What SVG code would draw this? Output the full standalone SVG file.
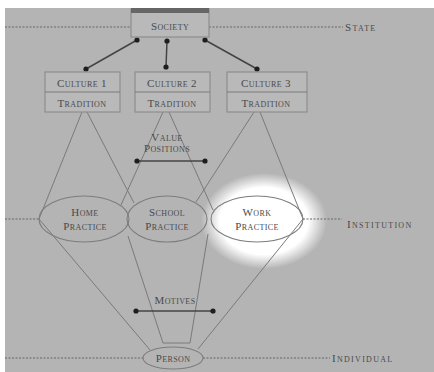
<svg xmlns="http://www.w3.org/2000/svg" width="434" height="372" viewBox="0 0 434 372">
<defs>
<radialGradient id="glow" cx="0.5" cy="0.5" r="0.5">
<stop offset="0" stop-color="#ffffff"/>
<stop offset="0.7" stop-color="#ffffff"/>
<stop offset="1" stop-color="#ffffff" stop-opacity="0"/>
</radialGradient>
<marker id="dot" viewBox="0 0 6 6" refX="3" refY="3" markerWidth="6" markerHeight="6" markerUnits="userSpaceOnUse">
<circle cx="3" cy="3" r="2.6" fill="#1e1e1e"/>
</marker>
<style>
.t{font-family:"Liberation Serif",serif;font-variant:small-caps;font-size:11px;letter-spacing:0.4px;fill:#4a4a4a;text-anchor:middle}
.lab{font-family:"Liberation Serif",serif;font-variant:small-caps;font-size:11px;letter-spacing:1.3px;fill:#4a4a4a}
.dash{stroke:#666;stroke-width:1.2;stroke-dasharray:2 1.5;fill:none}
.ln{stroke:#7a7a7a;stroke-width:1;fill:none}
.box{stroke:#8e8e8e;stroke-width:1.2;fill:#b9b9b9}
.ell{stroke:#7d7d7d;stroke-width:1.1;fill:none}
.arr{stroke:#444;stroke-width:1.5;fill:none;marker-start:url(#dot);marker-end:url(#dot)}
</style>
</defs>
<rect x="0" y="0" width="434" height="372" fill="#ffffff"/>
<rect x="5" y="8" width="429" height="364" fill="#b4b4b4"/>
<ellipse cx="264" cy="221" rx="63" ry="48" fill="url(#glow)"/>

<g id="levels">
<line class="dash" x1="5" y1="27" x2="131" y2="27"/>
<line class="dash" x1="209" y1="27" x2="343" y2="27"/>
<text class="lab" x="345" y="31">State</text>
<line class="dash" x1="5" y1="219" x2="39" y2="219"/>
<line class="dash" x1="303" y1="219" x2="342" y2="219"/>
<text class="lab" x="347" y="228">Institution</text>
<line class="dash" x1="5" y1="358" x2="143" y2="358"/>
<line class="dash" x1="203" y1="358" x2="330" y2="358"/>
<text class="lab" x="332" y="362">Individual</text>
</g>

<g id="connectors">
<line class="arr" x1="137" y1="40" x2="86" y2="69"/>
<line class="arr" x1="167" y1="41" x2="166" y2="67"/>
<line class="arr" x1="205" y1="40" x2="257" y2="69"/>
<line class="ln" x1="82" y1="112" x2="39" y2="219"/>
<line class="ln" x1="87" y1="112" x2="134" y2="203"/>
<line class="ln" x1="163" y1="112" x2="121" y2="205"/>
<line class="ln" x1="169" y1="112" x2="213" y2="210"/>
<line class="ln" x1="254" y1="112" x2="196" y2="202"/>
<line class="ln" x1="260" y1="112" x2="303" y2="219"/>
<line class="ln" x1="39" y1="219" x2="150" y2="350"/>
<line class="ln" x1="128" y1="236" x2="163" y2="343"/>
<line class="ln" x1="208" y1="234" x2="190" y2="343"/>
<line class="ln" x1="303" y1="219" x2="198" y2="349"/>
<line class="ln" x1="163" y1="343" x2="190" y2="343"/>
<line class="arr" x1="137" y1="161" x2="205" y2="161"/>
<line class="arr" x1="136" y1="311" x2="213" y2="311"/>
</g>

<g id="society">
<rect class="box" x="131" y="9" width="78" height="28"/>
<rect x="131" y="8" width="78" height="5" fill="#666"/>
<text class="t" x="170" y="30">Society</text>
</g>
<g id="culture1">
<rect class="box" x="45" y="72" width="75" height="40"/>
<line class="ln" x1="45" y1="92" x2="120" y2="92"/>
<text class="t" x="82" y="87">Culture 1</text>
<text class="t" x="82" y="107">Tradition</text>
</g>
<g id="culture2">
<rect class="box" x="135" y="72" width="75" height="40"/>
<line class="ln" x1="135" y1="92" x2="210" y2="92"/>
<text class="t" x="172" y="87">Culture 2</text>
<text class="t" x="172" y="107">Tradition</text>
</g>
<g id="culture3">
<rect class="box" x="227" y="72" width="80" height="40"/>
<line class="ln" x1="227" y1="92" x2="307" y2="92"/>
<text class="t" x="266" y="87">Culture 3</text>
<text class="t" x="266" y="107">Tradition</text>
</g>
<g id="value">
<text class="t" x="167" y="141">Value</text>
<text class="t" x="167" y="152">Positions</text>
</g>
<g id="home">
<ellipse class="ell" cx="84" cy="219" rx="45" ry="23"/>
<text class="t" x="85" y="216">Home</text>
<text class="t" x="85" y="230">Practice</text>
</g>
<g id="school">
<ellipse class="ell" cx="167" cy="219" rx="40" ry="23"/>
<text class="t" x="167" y="216">School</text>
<text class="t" x="167" y="230">Practice</text>
</g>
<g id="work">
<ellipse class="ell" cx="257" cy="219" rx="46" ry="23"/>
<text class="t" x="257" y="216">Work</text>
<text class="t" x="257" y="230">Practice</text>
</g>
<g id="motives">
<text class="t" x="175" y="304">Motives</text>
</g>
<g id="person">
<ellipse class="ell" cx="173" cy="358" rx="30" ry="11"/>
<text class="t" x="173" y="362">Person</text>
</g>
</svg>
